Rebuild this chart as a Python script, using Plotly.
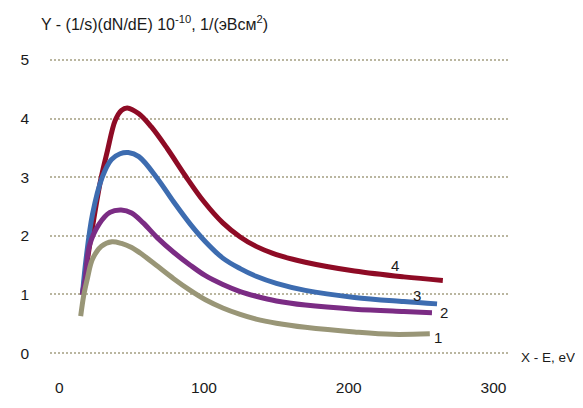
import plotly.graph_objects as go

# Curve 4 (dark red)
x4 = [16, 22, 28.6, 33.1, 38.7, 43, 47, 55, 63.5, 74.8, 87.2, 100, 113, 125, 136, 150, 170, 204, 238, 265]
y4 = [1.0, 2.0, 2.95, 3.43, 3.97, 4.14, 4.18, 4.08, 3.86, 3.48, 3.02, 2.58, 2.22, 1.98, 1.82, 1.68, 1.55, 1.40, 1.30, 1.24]
# Curve 3 (blue)
x3 = [16, 18.5, 22.9, 29.7, 36, 42, 47.7, 55, 68, 79, 90.5, 101, 113, 125, 136, 150, 170, 204, 238, 261]
y3 = [1.0, 1.60, 2.36, 3.0, 3.30, 3.40, 3.42, 3.35, 2.97, 2.58, 2.20, 1.90, 1.62, 1.44, 1.31, 1.19, 1.07, 0.95, 0.88, 0.84]
# Curve 2 (purple)
x2 = [15.8, 18, 20.7, 27.5, 35, 42.8, 50, 58, 68, 79, 90.5, 101, 113, 125, 136, 150, 170, 204, 238, 257.5]
y2 = [0.99, 1.28, 1.82, 2.20, 2.40, 2.44, 2.39, 2.22, 1.96, 1.72, 1.50, 1.32, 1.17, 1.05, 0.97, 0.89, 0.82, 0.75, 0.71, 0.69]
# Curve 1 (grey-olive)
x1 = [14.8, 17, 19.5, 22.9, 29, 36.4, 43, 50, 58, 68, 79, 90.5, 101, 113, 125, 136, 150, 170, 204, 230, 256]
y1 = [0.63, 1.0, 1.28, 1.60, 1.82, 1.90, 1.87, 1.80, 1.67, 1.48, 1.27, 1.07, 0.91, 0.77, 0.66, 0.58, 0.51, 0.44, 0.36, 0.32, 0.33]

x_ticks = [0, 100, 200, 300]
y_ticks = [0, 1, 2, 3, 4, 5]
curve_labels = ["1", "2", "3", "4"]
label_pos_x = [261.4, 265.9, 247.4, 232.1]
label_pos_y = [0.27, 0.70, 0.985, 1.50]

colors = {"4": "#8e0b25", "3": "#3d6cb0", "2": "#7b2c84", "1": "#999677"}

fig = go.Figure()
for xs, ys, key in [(x4, y4, "4"), (x3, y3, "3"), (x2, y2, "2"), (x1, y1, "1")]:
    fig.add_trace(go.Scatter(x=xs, y=ys, mode="lines",
                             line=dict(color=colors[key], width=5, shape="spline", smoothing=1),
                             showlegend=False, hoverinfo="skip"))

fam = "Liberation Sans, Arial, sans-serif"
tick_font = dict(family=fam, size=15.5, color="#1a1a1a")
title_font = dict(family=fam, size=16, color="#1a1a1a")
label_font = dict(family=fam, size=15, color="#1a1a1a")
axis_label_font = dict(family=fam, size=13.5, color="#1a1a1a")

for t, lx, ly in zip(curve_labels, label_pos_x, label_pos_y):
    fig.add_annotation(x=lx, y=ly, text=t, showarrow=False, font=label_font,
                       xanchor="center", yanchor="middle")

fig.add_annotation(xref="paper", yref="paper", x=-0.0234, y=1.1006,
                   text="Y - (1/s)(dN/dE) 10<sup>-10</sup>, 1/(эВсм<sup>2</sup>)",
                   showarrow=False, font=title_font, xanchor="left", yanchor="middle")
fig.add_annotation(xref="paper", yref="paper", x=1.019, y=0.006, text="X - E, eV",
                   showarrow=False, font=axis_label_font, xanchor="left", yanchor="middle")

fig.update_layout(
    width=575, height=400,
    margin=dict(l=32, r=73, t=46, b=33),
    paper_bgcolor="white", plot_bgcolor="white",
    font=tick_font,
    xaxis=dict(range=[-6.4, 311.4], tickvals=x_ticks, ticktext=[str(v) for v in x_ticks],
               showgrid=False, zeroline=False, showline=False, ticks="",
               ticklabelstandoff=17, tickfont=tick_font),
    yaxis=dict(range=[-0.1, 5.1], tickvals=y_ticks, ticktext=[str(v) for v in y_ticks],
               showgrid=True, gridcolor="#bab6a0", gridwidth=1.5, griddash="2px,2px",
               zeroline=False, showline=False, ticks="",
               ticklabelstandoff=20, tickfont=tick_font),
)

fig.write_html("out.html")
